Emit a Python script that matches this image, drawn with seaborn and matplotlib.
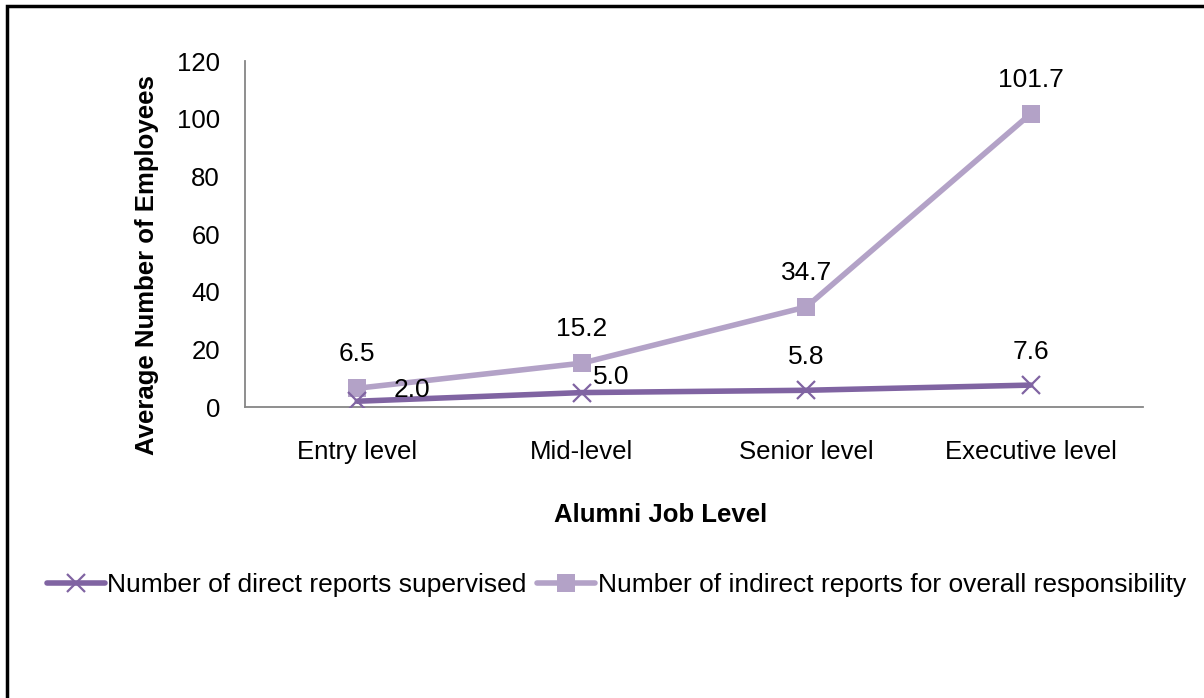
import numpy as np
import pandas as pd
import matplotlib
matplotlib.use('Agg')
import matplotlib.pyplot as plt
import seaborn as sns
from matplotlib.patches import Rectangle
from matplotlib.lines import Line2D

levels = ['Entry level', 'Mid-level', 'Senior level', 'Executive level']
direct = [2.0, 5.0, 5.8, 7.6]
indirect = [6.5, 15.2, 34.7, 101.7]
series_names = ['Number of direct reports supervised',
                'Number of indirect reports for overall responsibility']

sns.set_style('white')
plt.rcParams['font.family'] = ['Liberation Sans', 'DejaVu Sans']
plt.rcParams['text.color'] = 'black'
plt.rcParams['xtick.color'] = 'black'
plt.rcParams['ytick.color'] = 'black'
plt.rcParams['axes.labelcolor'] = 'black'

c_direct = '#8064A2'
c_indirect = '#B3A2C7'
gray = '#868686'
fs = 19
fs_tick = 18.5

fig = plt.figure(figsize=(12.04, 6.98), dpi=100)
ax = fig.add_axes([0.2035, 0.4169, 0.7458, 0.4957])

x = np.arange(len(levels))
df = pd.DataFrame({'x': x, 'direct': direct, 'indirect': indirect})

sns.lineplot(data=df, x='x', y='indirect', ax=ax, color=c_indirect, lw=4,
             marker='s', markersize=13, markeredgewidth=0, zorder=2)
sns.lineplot(data=df, x='x', y='direct', ax=ax, color=c_direct, lw=4,
             marker='x', markersize=13, markeredgewidth=1.6,
             markeredgecolor=c_direct, zorder=3)

# data labels (offsets in pixels -> points)
for i, v in enumerate(indirect):
    ax.annotate(f'{v:.1f}', (x[i], v), xytext=(0, 34 * 0.72), textcoords='offset points',
                ha='center', va='center', fontsize=fs)
d_off = [(55, 11), (29, 16), (0, 33), (0, 33)]
for i, v in enumerate(direct):
    dx, dy = d_off[i]
    ax.annotate(f'{v:.1f}', (x[i], v), xytext=(dx * 0.72, dy * 0.72), textcoords='offset points',
                ha='center', va='center', fontsize=fs)

ax.set_xlim(-0.5, 3.5)
ax.set_ylim(0, 120)
ax.set_yticks(range(0, 121, 20))
ax.set_xticks(np.arange(-0.5, 3.6, 1))
ax.set_xticklabels([])
ax.set_xticks(x, minor=True)
ax.set_xticklabels(levels, minor=True)
ax.tick_params(axis='x', which='minor', length=0, pad=24, labelsize=fs_tick)
ax.tick_params(axis='x', which='major', length=7, width=1.3, color=gray, direction='out')
ax.tick_params(axis='y', length=7, width=1.3, color=gray, direction='out', labelsize=fs_tick, pad=11)

for s in ['top', 'right']:
    ax.spines[s].set_visible(False)
for s in ['left', 'bottom']:
    ax.spines[s].set_color(gray)
    ax.spines[s].set_linewidth(1.3)

ax.set_xlabel('Alumni Job Level', fontsize=fs_tick, fontweight='bold', labelpad=28)
ax.set_ylabel('Average Number of Employees', fontsize=fs_tick, fontweight='bold', labelpad=13)
ax.xaxis.label.set_x(0.463)
ax.yaxis.label.set_y(0.41)

handles = [Line2D([], [], color=c_direct, lw=4, marker='x', markersize=13,
                  markeredgewidth=1.6, markeredgecolor=c_direct),
           Line2D([], [], color=c_indirect, lw=4, marker='s', markersize=13, markeredgewidth=0)]
fig.legend(handles, series_names, loc='center left', bbox_to_anchor=(0.019, 0.162),
           ncol=2, frameon=False, fontsize=fs, handlelength=2.2, handletextpad=0.1,
           columnspacing=0.4)

# outer chart frame
fig.patches.append(Rectangle((7 / 1204, -0.1), 1.2, 1 - 6 / 698 + 0.1,
                             transform=fig.transFigure, fill=False,
                             edgecolor='black', lw=2.5))

fig.savefig('out.png', dpi=100)
